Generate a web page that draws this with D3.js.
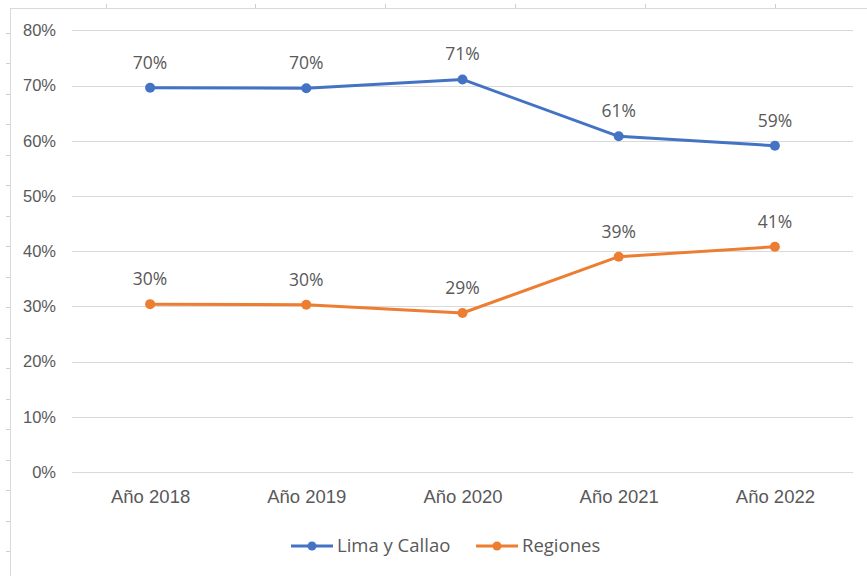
<!DOCTYPE html>
<html>
<head>
<meta charset="utf-8">
<script src="https://cdn.jsdelivr.net/npm/d3@7"></script>
<style>
  html, body { margin: 0; padding: 0; background: #fff; }
  #root { width: 867px; height: 576px; overflow: hidden; }
  svg { display: block; font-family: "Open Sans", sans-serif; }
</style>
</head>
<body>
<div id="root"></div>
<script>
// ——— données
const categories = ["Año 2018", "Año 2019", "Año 2020", "Año 2021", "Año 2022"];
const limaCallao = [0.696, 0.695, 0.711, 0.608, 0.591];
const regiones   = [0.304, 0.303, 0.288, 0.390, 0.408];
const yTicks = [0, 0.1, 0.2, 0.3, 0.4, 0.5, 0.6, 0.7, 0.8];

// repères de la feuille de calcul autour du graphique
const sheetCols = [106, 255, 385, 515, 645, 775];
const sheetRows = d3.range(0, 18).map(i => 33 + i * 30.47);

const series = [
  { name: "Lima y Callao", values: limaCallao, color: "#4472C4" },
  { name: "Regiones",      values: regiones,   color: "#ED7D31" }
];

const W = 867, H = 576;
const plot = { left: 72, right: 853, top: 30.3, bottom: 472 };
const textColor = "#595959";
const pct = d3.format(".0%");

const svg = d3.select("#root").append("svg")
  .attr("width", W).attr("height", H)
  .attr("viewBox", `0 0 ${W} ${H}`);

// ——— fond feuille + cadre du graphique
svg.append("g").selectAll("line.col")
  .data(sheetCols).enter().append("line")
  .attr("x1", d => d + 0.5).attr("x2", d => d + 0.5)
  .attr("y1", 4).attr("y2", 8)
  .attr("stroke", "#d0d0d0");
svg.append("g").selectAll("line.row")
  .data(sheetRows).enter().append("line")
  .attr("x1", 6).attr("x2", 10)
  .attr("y1", d => Math.round(d) + 0.5).attr("y2", d => Math.round(d) + 0.5)
  .attr("stroke", "#d0d0d0");
svg.append("rect")
  .attr("x", 10.5).attr("y", 8.5)
  .attr("width", W + 20).attr("height", H + 20)
  .attr("fill", "#fff")
  .attr("stroke", "#d9d9d9");

// ——— échelles
const x = d3.scalePoint()
  .domain(categories)
  .range([plot.left, plot.right])
  .padding(0.5);

const y = d3.scaleLinear()
  .domain([0, 0.8])
  .range([plot.bottom, plot.top]);

// ——— grille horizontale
svg.append("g")
  .selectAll("line")
  .data(yTicks).enter().append("line")
  .attr("x1", plot.left).attr("x2", plot.right)
  .attr("y1", d => Math.round(y(d)) + 0.5)
  .attr("y2", d => Math.round(y(d)) + 0.5)
  .attr("stroke", "#d9d9d9")
  .attr("stroke-width", 1);

// ——— axe Y
const yAxis = svg.append("g")
  .attr("transform", `translate(${plot.left - 16},0)`)
  .call(d3.axisLeft(y).tickValues(yTicks).tickFormat(pct).tickSize(0).tickPadding(0));
yAxis.select(".domain").remove();
yAxis.selectAll("text")
  .attr("fill", textColor)
  .style("font-size", "16.5px");

// ——— axe X
const xAxis = svg.append("g")
  .attr("transform", `translate(0,${plot.bottom})`)
  .call(d3.axisBottom(x).tickSize(0).tickPadding(18));
xAxis.select(".domain").remove();
xAxis.selectAll("text")
  .attr("fill", textColor)
  .style("font-size", "18.5px");

// ——— lignes + marqueurs + étiquettes
const line = d3.line()
  .x((d, i) => x(categories[i]))
  .y(d => y(d));

series.forEach(s => {
  const g = svg.append("g");
  g.append("path")
    .datum(s.values)
    .attr("d", line)
    .attr("fill", "none")
    .attr("stroke", s.color)
    .attr("stroke-width", 3)
    .attr("stroke-linejoin", "round")
    .attr("stroke-linecap", "round");

  g.selectAll("circle")
    .data(s.values).enter().append("circle")
    .attr("cx", (d, i) => x(categories[i]))
    .attr("cy", d => y(d))
    .attr("r", 5)
    .attr("fill", s.color);

  g.selectAll("text")
    .data(s.values).enter().append("text")
    .attr("x", (d, i) => x(categories[i]))
    .attr("y", d => y(d) - 19)
    .attr("text-anchor", "middle")
    .attr("fill", textColor)
    .style("font-size", "17.5px")
    .text(d => pct(d));
});

// ——— légende
const legendY = 546;
const legendX = [291, 476];
const legend = svg.append("g");
series.forEach((s, i) => {
  const lg = legend.append("g").attr("transform", `translate(${legendX[i]},${legendY})`);
  lg.append("line")
    .attr("x1", 0).attr("x2", 42)
    .attr("stroke", s.color).attr("stroke-width", 3);
  lg.append("circle")
    .attr("cx", 21).attr("r", 4.5)
    .attr("fill", s.color);
  lg.append("text")
    .attr("x", 46)
    .attr("dy", "0.35em")
    .attr("fill", textColor)
    .style("font-size", "18.5px")
    .text(s.name);
});
</script>
</body>
</html>
